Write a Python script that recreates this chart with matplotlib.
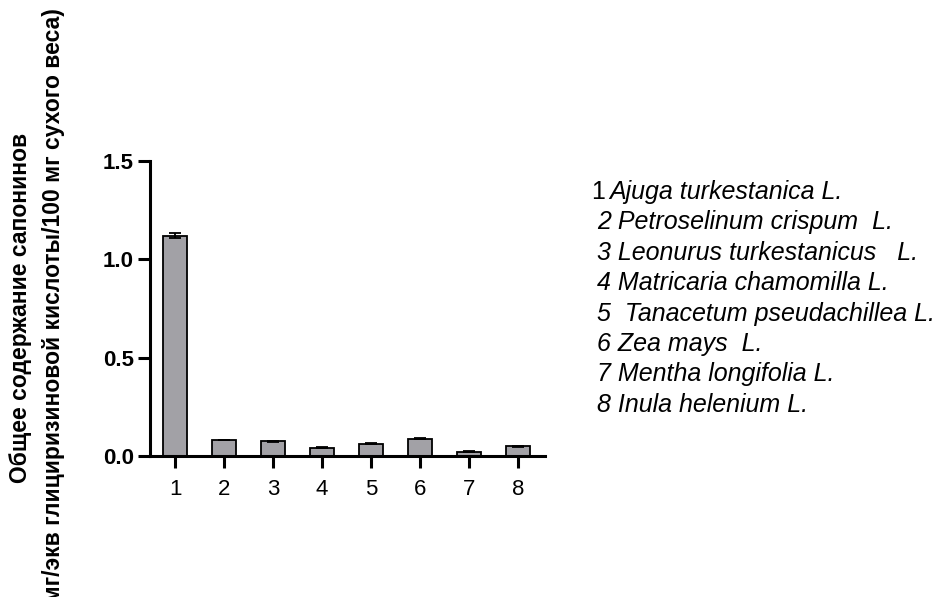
import matplotlib
matplotlib.use('Agg')
from matplotlib import pyplot as plt
import numpy as np

# Data
categories = ['1', '2', '3', '4', '5', '6', '7', '8']
values = [1.12, 0.081, 0.074, 0.042, 0.062, 0.088, 0.022, 0.049]
errors = [0.012, 0.002, 0.003, 0.002, 0.002, 0.003, 0.002, 0.002]
yticks = [0.0, 0.5, 1.0, 1.5]
species = [
    'Ajuga turkestanica L.',
    'Petroselinum crispum  L.',
    'Leonurus turkestanicus   L.',
    'Matricaria chamomilla L.',
    ' Tanacetum pseudachillea L.',
    'Zea mays  L.',
    'Mentha longifolia L.',
    'Inula helenium L.',
]

plt.rcParams['font.family'] = ['Liberation Sans', 'DejaVu Sans']

fig = plt.figure(figsize=(9.39, 5.97), dpi=100)
ax = fig.add_axes([150 / 939, 1 - 456 / 597, (545 - 150) / 939, (456 - 160.7) / 597])

x = np.arange(1, len(values) + 1)
ax.bar(x, values, width=0.49, color='#a2a1a6', edgecolor='black', linewidth=1.3, zorder=2)
ax.errorbar(x, values, yerr=errors, fmt='none', ecolor='black', elinewidth=1.3,
            capsize=4, capthick=1.3, zorder=3)

ax.set_xlim(0.49, 8.545)
ax.set_ylim(0, 1.5)
ax.set_xticks(x)
ax.set_xticklabels(categories, fontsize=16)
ax.set_yticks(yticks)
ax.set_yticklabels(['0.0', '0.5', '1.0', '1.5'], fontsize=16, fontweight='bold')
for s in ['top', 'right']:
    ax.spines[s].set_visible(False)
for s in ['left', 'bottom']:
    ax.spines[s].set_linewidth(2.2)
ax.tick_params(axis='both', length=8.6, width=2.2)
ax.tick_params(axis='y', pad=3)
ax.tick_params(axis='x', pad=8)

# y label, two lines placed as in the original (second one runs off the bottom there too)
fig.text(21 / 939, 1 - 308 / 597, 'Общее содержание сапонинов', rotation=90,
         ha='center', va='center', fontsize=16.5, fontweight='bold')
fig.text(54 / 939, 1 - 8 / 597, '(мг/экв глициризиновой кислоты/100 мг сухого веса)',
         rotation=90, ha='center', va='top', fontsize=16.5, fontweight='bold')

# species list on the right
y0 = 192
step = 30.4
for i, name in enumerate(species):
    yy = 1 - (y0 + i * step) / 597
    if i == 0:
        fig.text(591 / 939, yy, '1', ha='left', va='center', fontsize=18)
        fig.text(609 / 939, yy, name, ha='left', va='center', fontsize=18, style='italic')
    else:
        fig.text(597 / 939, yy, f'{i + 1} {name}', ha='left', va='center',
                 fontsize=18, style='italic')

fig.savefig('out.png', dpi=100)
